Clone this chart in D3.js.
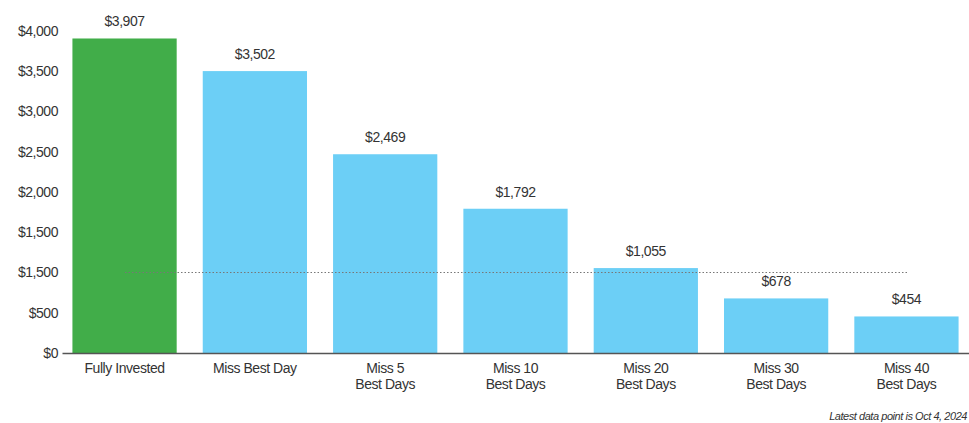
<!DOCTYPE html>
<html><head><meta charset="utf-8">
<script src="https://cdn.jsdelivr.net/npm/d3@7"></script>
<style>
body{margin:0;background:#fff;}
svg{display:block;font-family:"Liberation Sans",Arial,sans-serif;}
svg text{letter-spacing:-0.45px;}
</style></head>
<body><svg id="c" width="969" height="423"></svg>
<script>
const categories = [["Fully Invested"],["Miss Best Day"],["Miss 5","Best Days"],["Miss 10","Best Days"],["Miss 20","Best Days"],["Miss 30","Best Days"],["Miss 40","Best Days"]];
const values = [3907, 3502, 2469, 1792, 1055, 678, 454];
const valueLabels = ["$3,907","$3,502","$2,469","$1,792","$1,055","$678","$454"];
const tickValues = [0,500,1000,1500,2000,2500,3000,3500,4000];
const tickLabels = ["$0","$500","$1,500","$1,500","$2,000","$2,500","$3,000","$3,500","$4,000"];
const refValue = 1000;
const footnote = "Latest data point is Oct 4, 2024";

const svg = d3.select("#c");
const x = d3.scaleBand().domain(d3.range(values.length)).range([62, 969]).paddingInner(0.2).paddingOuter(0.08);
const y = d3.scaleLinear().domain([0, 4000]).range([353, 31]);

svg.append("g").selectAll("rect").data(values).join("rect")
  .attr("x", (d,i)=>x(i)).attr("width", x.bandwidth())
  .attr("y", d=>y(d)).attr("height", d=>y(0)-y(d))
  .attr("fill", (d,i)=> i===0 ? "#41ad49" : "#6ccff6");

svg.append("g").selectAll("text").data(values).join("text")
  .attr("x", (d,i)=>x(i)+x.bandwidth()/2).attr("y", d=>y(d)-12)
  .attr("text-anchor","middle").attr("font-size",14).attr("fill","#333")
  .text((d,i)=>valueLabels[i]);

// y axis labels
const yAxis = d3.axisLeft(y).tickValues(tickValues).tickFormat((d,i)=>tickLabels[i]).tickSize(0).tickPadding(4);
const gy = svg.append("g").attr("transform","translate(62,0)").call(yAxis);
gy.select(".domain").remove();
gy.selectAll("text").attr("font-size",14).attr("fill","#333").attr("font-family","Liberation Sans, Arial, sans-serif");

// x axis
const xAxis = d3.axisBottom(x).tickSize(0).tickFormat("");
const gx = svg.append("g").attr("transform","translate(0,353)").call(xAxis);
gx.select(".domain").attr("stroke","#555").attr("stroke-width",1.5);
gx.selectAll(".tick").each(function(d){
  const t = d3.select(this).append("text").attr("text-anchor","middle").attr("font-size",14).attr("fill","#333")
    .attr("font-family","Liberation Sans, Arial, sans-serif");
  categories[d].forEach((line,j)=>{
    t.append("tspan").attr("x",0).attr("y",20+j*16).text(line);
  });
});

// reference dotted line
svg.append("line").attr("x1",125).attr("x2",908).attr("y1",y(refValue)).attr("y2",y(refValue))
  .attr("stroke","#777").attr("stroke-width",1).attr("stroke-dasharray","1.5,2");

svg.append("text").attr("x",967).attr("y",420).attr("text-anchor","end").attr("font-size",11).attr("font-style","italic").attr("fill","#333").text(footnote);
</script></body></html>
